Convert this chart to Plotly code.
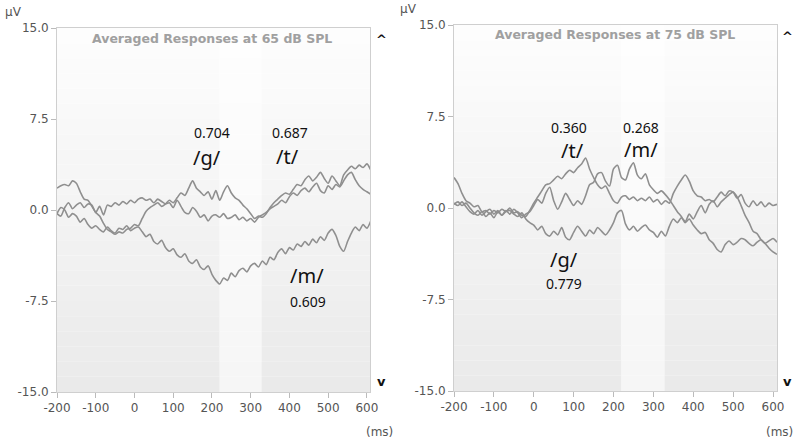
import plotly.graph_objects as go

t_ms = list(range(-200, 611, 10))

left_m = [-0.3,0.2,0.0,-0.6,-0.3,-0.5,-1.0,-0.7,-1.2,-1.5,-1.3,-1.6,-1.8,-1.4,-1.7,-1.9,-1.5,-1.6,-1.3,-1.7,
          -1.5,-1.4,-1.8,-2.2,-2.0,-2.6,-2.8,-2.5,-3.1,-3.4,-3.2,-3.7,-3.9,-3.6,-4.2,-4.4,-4.1,-4.7,-4.9,-4.6,
          -5.3,-5.8,-6.1,-5.6,-5.8,-5.2,-5.5,-5.0,-4.8,-5.1,-4.6,-4.4,-4.7,-4.2,-4.5,-3.9,-4.1,-3.5,-3.2,-3.6,
          -3.1,-3.3,-2.8,-3.0,-2.6,-2.9,-2.4,-2.7,-2.2,-2.5,-1.9,-1.6,-2.1,-3.0,-3.4,-2.6,-1.9,-1.4,-1.7,-1.2,
          -1.5,-0.9]
left_g = [1.8,2.0,2.1,2.0,2.4,2.2,1.5,0.9,0.8,0.3,-0.2,-0.5,-1.1,-1.6,-1.8,-2.0,-1.8,-1.9,-1.6,-1.5,
          -1.2,-1.3,-0.7,-0.1,0.2,0.4,0.6,0.3,0.5,0.8,0.6,1.0,1.4,1.2,1.8,2.4,1.8,1.5,1.2,1.5,
          0.9,1.6,0.8,1.5,2.0,1.4,1.0,0.8,0.4,0.1,-0.3,-0.7,-0.5,-0.6,-0.3,0.2,0.6,0.9,1.2,1.4,
          1.3,1.7,2.1,2.0,2.5,2.8,2.4,2.7,3.1,2.6,2.2,2.8,2.4,2.0,2.9,3.3,3.6,3.4,3.7,3.5,
          3.8,3.3]
left_t = [-0.3,-0.5,0.2,0.6,0.1,0.4,0.6,0.2,0.5,0.4,-0.2,0.3,-0.4,0.4,0.3,0.6,0.4,0.7,0.5,0.8,
          0.6,0.9,1.0,0.8,0.9,0.6,0.9,0.7,0.5,0.6,0.2,0.8,0.3,-0.2,-0.3,0.2,-0.1,-0.6,-0.4,-0.9,
          -0.5,-0.4,-0.6,-0.3,-0.7,-0.6,-0.4,-0.8,-0.6,-0.9,-0.7,-1.0,-0.6,-0.4,-0.2,0.1,0.3,0.5,0.8,0.6,
          1.1,1.4,1.2,1.6,1.8,1.5,1.9,2.2,1.6,1.4,2.0,1.7,2.1,1.9,2.4,2.9,3.1,2.5,2.0,1.7,
          1.5,1.3]

right_t = [2.5,2.0,1.2,0.6,0.4,0.1,0.2,-0.3,-0.2,-0.5,-0.2,-0.4,-0.1,-0.3,0.0,-0.4,-0.3,-0.6,-0.7,-0.2,
           0.4,0.9,1.4,1.9,2.0,2.3,2.6,2.4,2.8,3.1,2.9,3.3,3.6,4.1,3.2,2.5,1.9,1.6,1.8,1.2,
           0.6,0.4,0.9,1.0,0.7,0.9,0.6,0.8,0.6,0.9,0.5,0.7,0.3,0.6,0.4,1.2,1.8,2.3,2.7,2.2,
           1.4,1.0,0.9,0.6,0.7,0.5,0.9,1.3,1.0,1.4,1.3,0.8,1.1,0.4,0.1,0.6,0.2,0.5,0.1,0.4,
           0.2,0.3]
right_m = [0.3,0.5,0.2,0.4,0.0,-0.4,-0.6,-0.3,-0.7,-0.4,-0.8,-0.3,-0.6,-0.2,-0.5,-0.1,-0.4,-0.8,-0.5,-0.3,
           0.2,0.7,0.4,1.2,1.7,0.6,-0.1,0.5,1.2,0.7,0.2,0.6,0.3,1.0,1.9,2.1,2.8,2.9,2.2,1.8,
           3.2,3.5,2.5,2.3,3.2,3.7,2.7,2.4,2.8,1.9,1.5,1.2,1.4,1.1,0.7,0.2,-0.3,-0.7,-1.2,-0.9,
           -1.4,-1.8,-2.1,-2.0,-2.6,-2.9,-3.4,-3.6,-3.0,-2.7,-3.0,-2.8,-2.5,-2.6,-2.9,-3.1,-2.8,-2.6,-2.9,-2.7,
           -2.5,-2.8]
right_g = [0.4,0.2,0.5,0.1,-0.3,-0.5,-0.2,-0.6,-0.3,-0.1,-0.5,-0.2,-0.6,-0.3,-0.2,-0.5,-0.7,-0.4,-0.9,-1.2,
           -1.4,-1.8,-1.5,-2.1,-2.3,-1.9,-2.2,-1.6,-2.4,-2.6,-2.0,-1.5,-1.9,-2.3,-1.8,-2.1,-1.6,-1.9,-2.2,-1.8,
           -1.2,-0.4,-0.2,-1.3,-1.8,-1.5,-1.9,-1.6,-1.4,-1.8,-2.0,-2.4,-1.9,-2.3,-1.5,-0.9,-1.2,-0.8,-1.1,-0.5,
           -0.9,-0.3,0.2,-0.4,0.3,0.6,0.1,0.5,0.8,1.1,1.3,0.9,0.2,-0.6,-1.2,-1.9,-2.1,-2.6,-2.9,-3.3,
           -3.6,-3.8]

y_ticks = [-15.0, -7.5, 0.0, 7.5, 15.0]
y_tick_text = ["-15.0", "-7.5", "0.0", "7.5", "15.0"]
x_ticks = [-200, -100, 0, 100, 200, 300, 400, 500, 600]
x_tick_text = ["-200", "-100", "0", "100", "200", "300", "400", "500", "600"]
titles = ["Averaged Responses at 65 dB SPL", "Averaged Responses at 75 dB SPL"]
band = [220, 328]

left_labels = [("0.704", 200, 6.4, 14), ("/g/", 187, 4.3, 20), ("0.687", 401, 6.4, 14), ("/t/", 394, 4.4, 20),
               ("/m/", 445, -5.4, 20), ("0.609", 448, -7.5, 14)]
right_labels = [("0.360", 88, 6.6, 14), ("/t/", 96, 4.7, 20), ("0.268", 269, 6.6, 14), ("/m/", 269, 4.8, 20),
                ("/g/", 76, -4.2, 20), ("0.779", 76, -6.2, 14)]

LINE = "#8f8f8f"
fig = go.Figure()
for ser in [left_m, left_g, left_t]:
    fig.add_trace(go.Scatter(x=t_ms, y=ser, mode="lines", xaxis="x", yaxis="y",
                             line=dict(color=LINE, width=1.6, shape="spline", smoothing=0.7),
                             showlegend=False, hoverinfo="skip"))
for ser in [right_t, right_m, right_g]:
    fig.add_trace(go.Scatter(x=t_ms, y=ser, mode="lines", xaxis="x2", yaxis="y2",
                             line=dict(color=LINE, width=1.6, shape="spline", smoothing=0.7),
                             showlegend=False, hoverinfo="skip"))

shapes = []
N = 24
for xr, yr, xmin, xmax in [("x", "y", -200, 608), ("x2", "y2", -200, 610)]:
    for i in range(N):
        f = i / (N - 1)
        g = int(round(253 - 19 * f))
        gb = int(round(254 - 8 * f))
        y1 = 1 - i / N
        y0 = 1 - (i + 1) / N
        for (a, b, c) in [(xmin, band[0], g), (band[0], band[1], gb), (band[1], xmax, g)]:
            shapes.append(dict(type="rect", xref=xr, yref=yr + " domain", x0=a, x1=b, y0=y0, y1=y1,
                               fillcolor=f"rgb({c},{c},{c})", line=dict(width=0), layer="below"))

annotations = []
for labs, xr, yr in [(left_labels, "x", "y"), (right_labels, "x2", "y2")]:
    for txt, xv, yv, sz in labs:
        annotations.append(dict(text=txt, x=xv, y=yv, xref=xr, yref=yr, showarrow=False,
                                xanchor="center", yanchor="middle",
                                font=dict(family="Noto Sans", size=sz, color="#111")))

def px(xp):
    return xp / 800
def py(yp):
    return 1 - yp / 444

def paper_text(txt, cx, cy, size, color, family="DejaVu Sans"):
    return dict(text=txt, x=px(cx), y=py(cy), xref="paper", yref="paper", showarrow=False,
                xanchor="center", yanchor="middle", font=dict(family=family, size=size, color=color))

for cx, cy, txt in [(212, 38, titles[0]), (615, 35, titles[1])]:
    annotations.append(paper_text("<b>" + txt + "</b>", cx, cy, 12.5, "#a0a0a0"))
for cx, cy in [(13, 12), (408, 9)]:
    annotations.append(paper_text("µV", cx, cy, 12, "#555"))
for cx, cy in [(379, 432), (779, 432)]:
    annotations.append(paper_text("(ms)", cx, cy, 12, "#555"))
for cx, cy, s in [(381, 40, "^"), (381, 381, "v"), (787, 36, "^"), (787, 381, "v")]:
    annotations.append(paper_text("<b>" + s + "</b>", cx, cy, 13, "#111"))

axis_common = dict(showgrid=False, zeroline=False, showline=True, linecolor="#cfcfcf", linewidth=1,
                   mirror=True, ticks="outside", ticklen=5, tickcolor="#bbbbbb", automargin=False,
                   tickfont=dict(family="DejaVu Sans", size=12, color="#555"))

fig.update_layout(
    width=800, height=444, margin=dict(l=0, r=0, t=0, b=0, autoexpand=False),
    paper_bgcolor="white", plot_bgcolor="white",
    xaxis=dict(domain=[px(57), px(370)], range=[-200, 608], tickvals=x_ticks, ticktext=x_tick_text, anchor="y", **axis_common),
    yaxis=dict(domain=[py(392), py(28)], range=[-15, 15], tickvals=y_ticks, ticktext=y_tick_text, anchor="x", **axis_common),
    xaxis2=dict(domain=[px(454), px(777)], range=[-200, 610], tickvals=x_ticks, ticktext=x_tick_text, anchor="y2", **axis_common),
    yaxis2=dict(domain=[py(391), py(25)], range=[-15, 15], tickvals=y_ticks, ticktext=y_tick_text, anchor="x2", **axis_common),
    shapes=shapes, annotations=annotations,
)
fig.write_html("out.html", config={"displayModeBar": False},
               post_script="document.body.style.margin='0';document.body.style.overflow='hidden';")
